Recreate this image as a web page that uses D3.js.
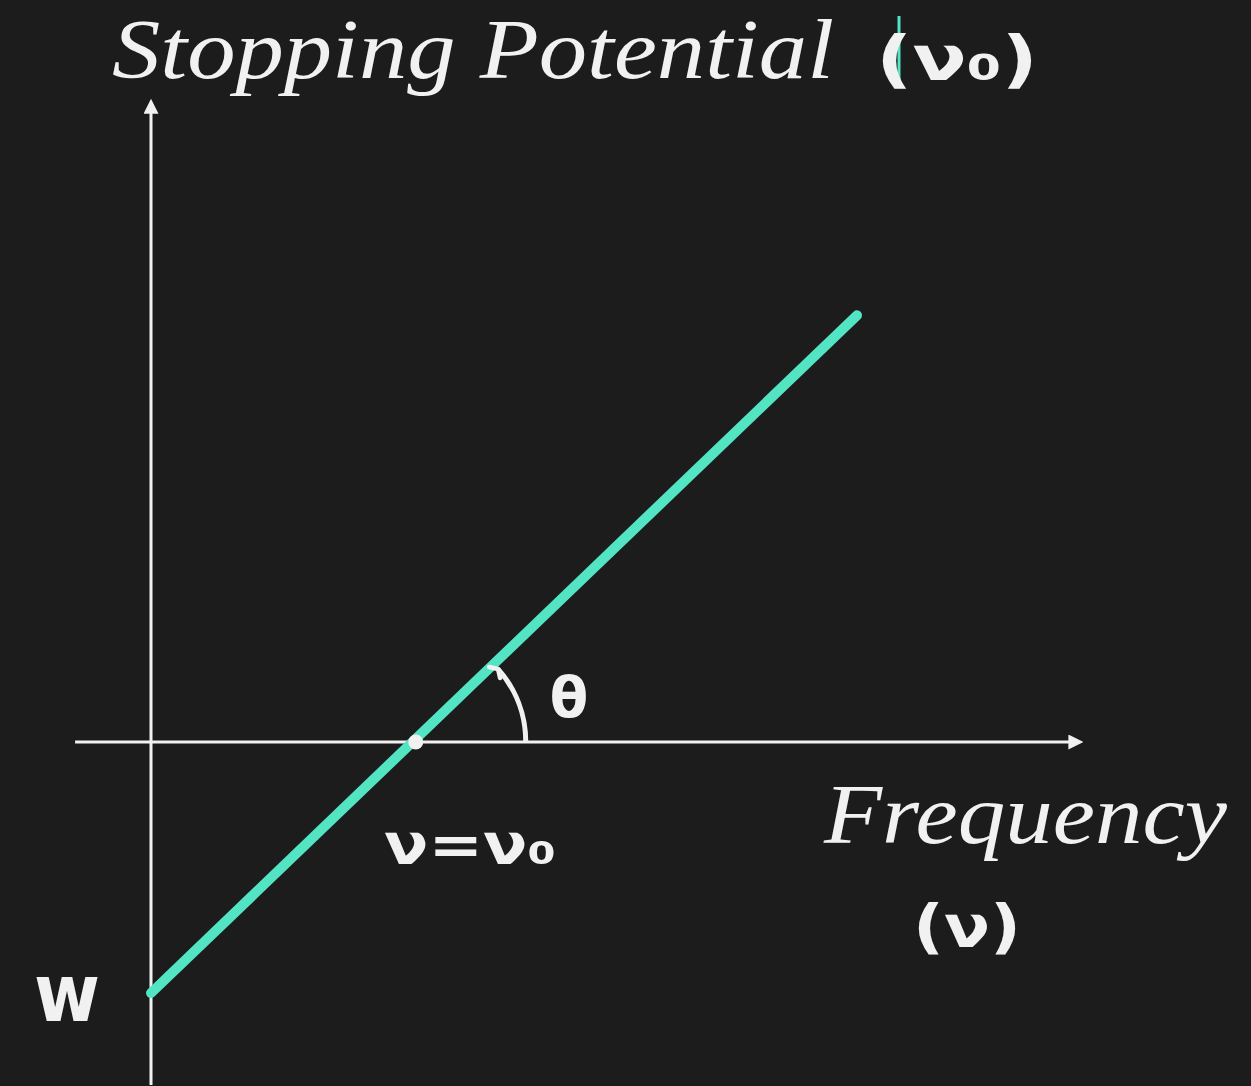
<!DOCTYPE html>
<html>
<head>
<meta charset="utf-8">
<script src="https://cdn.jsdelivr.net/npm/d3@7"></script>
<style>
  html, body { margin: 0; padding: 0; background: #1c1c1c; }
  svg { display: block; }
</style>
</head>
<body>
<script>
// Photoelectric effect: stopping potential against frequency
const linePoints = [
  { nu: 0, v: -3.0 },
  { nu: 8, v: 5.1 }
];
const thresholdNu = 3;          // ν = ν₀, where the line meets the frequency axis
const xAxisExtent = [-0.86, 10.52];
const yAxisExtent = [-4.1, 7.64];

const titleText = "Stopping Potential";
const titleSymbol = "(ν₀)";
const xLabelText = "Frequency";
const xLabelSymbol = "(ν)";
const thresholdText = "ν=ν₀";
const angleText = "θ";
const interceptText = "w";

const W = 1251, H = 1086;
const white = "#f1f1f1";
const teal = "#52e4c3";

const svg = d3.select("body").append("svg")
  .attr("width", W).attr("height", H);

svg.append("rect").attr("width", W).attr("height", H).attr("fill", "#1c1c1c");

const x = d3.scaleLinear().domain([0, 8]).range([151, 857]);
const y = d3.scaleLinear().domain([0, 5]).range([742, 742 - 5 * 83.67]);

// arrowhead marker for the axes
const defs = svg.append("defs");
defs.append("marker")
  .attr("id", "arrow")
  .attr("viewBox", "0 0 10 10")
  .attr("refX", 2).attr("refY", 5)
  .attr("markerWidth", 5).attr("markerHeight", 5)
  .attr("markerUnits", "strokeWidth")
  .attr("orient", "auto")
  .append("path")
  .attr("d", "M0,0 L10,5 L0,10 Z")
  .attr("fill", white);

// frequency axis
svg.append("line")
  .attr("x1", x(xAxisExtent[0])).attr("y1", y(0))
  .attr("x2", x(xAxisExtent[1]) - 8).attr("y2", y(0))
  .attr("stroke", white).attr("stroke-width", 3)
  .attr("marker-end", "url(#arrow)");

// stopping potential axis
svg.append("line")
  .attr("x1", x(0)).attr("y1", y(yAxisExtent[0]))
  .attr("x2", x(0)).attr("y2", y(yAxisExtent[1]) + 8)
  .attr("stroke", white).attr("stroke-width", 3)
  .attr("marker-end", "url(#arrow)");

// the straight line V = (h/e)ν − W/e
svg.append("path")
  .datum(linePoints)
  .attr("d", d3.line().x(d => x(d.nu)).y(d => y(d.v)))
  .attr("fill", "none")
  .attr("stroke", teal)
  .attr("stroke-width", 10)
  .attr("stroke-linecap", "round");

// threshold point
const cx = x(thresholdNu), cy = y(0);
svg.append("circle")
  .attr("cx", cx).attr("cy", cy).attr("r", 7.5)
  .attr("fill", white);

// angle θ between the line and the frequency axis
const dxPx = x(linePoints[1].nu) - x(linePoints[0].nu);
const dyPx = y(linePoints[0].v) - y(linePoints[1].v);
const lineAngle = Math.atan2(dyPx, dxPx);
const arcR = 110;
svg.append("path")
  .attr("transform", `translate(${cx},${cy})`)
  .attr("d", d3.arc()
    .innerRadius(arcR).outerRadius(arcR)
    .startAngle(Math.PI / 2 - lineAngle + 0.04)
    .endAngle(Math.PI / 2)())
  .attr("fill", "none")
  .attr("stroke", white)
  .attr("stroke-width", 5)
  .attr("stroke-linecap", "round");

// small hook at the top of the angle arc
const a0 = lineAngle - 0.04;
const hx = cx + arcR * Math.cos(a0), hy = cy - arcR * Math.sin(a0);
svg.append("path")
  .attr("d", `M${hx - 9},${hy - 2} L${hx},${hy} L${hx + 2},${hy + 9}`)
  .attr("fill", "none")
  .attr("stroke", white)
  .attr("stroke-width", 4.5)
  .attr("stroke-linecap", "round")
  .attr("stroke-linejoin", "round");

// labels
const serif = "'Liberation Serif', 'DejaVu Serif', serif";
const hand = "'DejaVu Sans', 'Noto Sans', sans-serif";

svg.append("text")
  .attr("x", 112).attr("y", 78)
  .attr("font-family", serif).attr("font-style", "italic")
  .attr("font-size", 84)
  .attr("textLength", 722).attr("lengthAdjust", "spacingAndGlyphs")
  .attr("fill", white)
  .text(titleText);

svg.append("line")
  .attr("x1", 899).attr("y1", 16).attr("x2", 899).attr("y2", 82)
  .attr("stroke", teal).attr("stroke-width", 3);

svg.append("text")
  .attr("x", 876).attr("y", 80)
  .attr("font-family", hand).attr("font-weight", "bold")
  .attr("font-size", 62)
  .attr("textLength", 162).attr("lengthAdjust", "spacingAndGlyphs")
  .attr("fill", white)
  .text(titleSymbol);

svg.append("text")
  .attr("x", 824).attr("y", 843)
  .attr("font-family", serif).attr("font-style", "italic")
  .attr("font-size", 84)
  .attr("textLength", 403).attr("lengthAdjust", "spacingAndGlyphs")
  .attr("fill", white)
  .text(xLabelText);

svg.append("text")
  .attr("x", 913).attr("y", 947)
  .attr("font-family", hand).attr("font-weight", "bold")
  .attr("font-size", 58)
  .attr("textLength", 108).attr("lengthAdjust", "spacingAndGlyphs")
  .attr("fill", white)
  .text(xLabelSymbol);

svg.append("text")
  .attr("x", 384).attr("y", 864)
  .attr("font-family", hand).attr("font-weight", "bold")
  .attr("font-size", 56)
  .attr("textLength", 172).attr("lengthAdjust", "spacingAndGlyphs")
  .attr("fill", white)
  .text(thresholdText);

svg.append("text")
  .attr("x", 569).attr("y", 717)
  .attr("text-anchor", "middle")
  .attr("font-family", hand).attr("font-weight", "bold")
  .attr("font-size", 56)
  .attr("fill", white)
  .text(angleText);

svg.append("text")
  .attr("x", 34).attr("y", 1021)
  .attr("font-family", hand).attr("font-weight", "bold")
  .attr("font-size", 80)
  .attr("textLength", 66).attr("lengthAdjust", "spacingAndGlyphs")
  .attr("fill", white)
  .text(interceptText);
</script>
</body>
</html>
